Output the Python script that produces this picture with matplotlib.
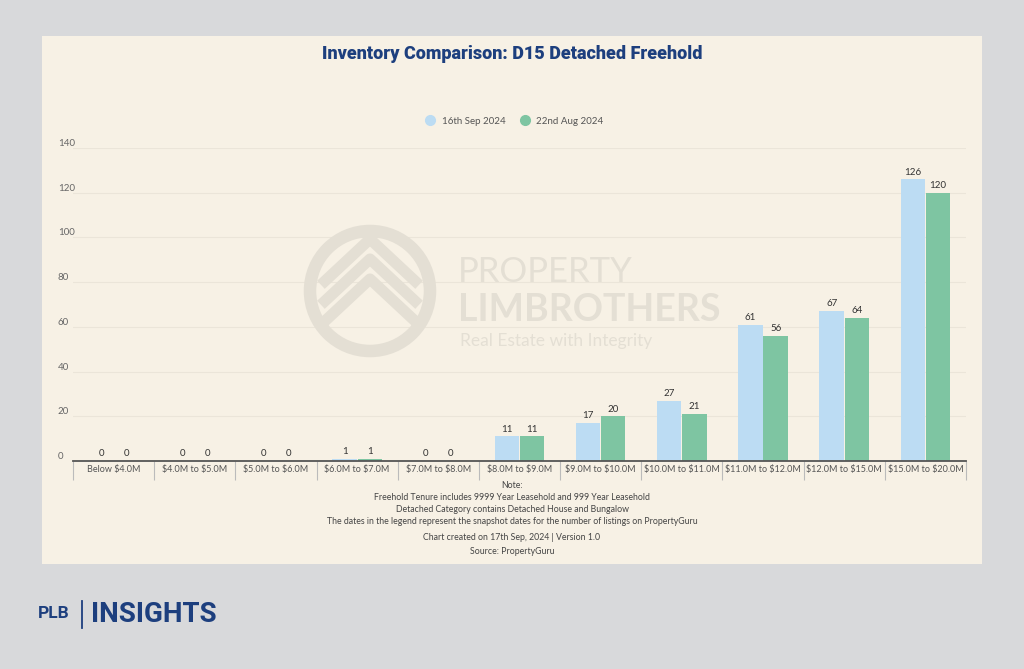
import matplotlib.pyplot as plt
from matplotlib.patches import Rectangle, Ellipse
import numpy as np

plt.rcParams['font.family'] = ['Lato', 'DejaVu Sans']

categories = ["Below $4.0M", "$4.0M to $5.0M", "$5.0M to $6.0M", "$6.0M to $7.0M",
              "$7.0M to $8.0M", "$8.0M to $9.0M", "$9.0M to $10.0M", "$10.0M to $11.0M",
              "$11.0M to $12.0M", "$12.0M to $15.0M", "$15.0M to $20.0M"]
sep_2024 = [0, 0, 0, 1, 0, 11, 17, 27, 61, 67, 126]
aug_2024 = [0, 0, 0, 1, 0, 11, 20, 21, 56, 64, 120]
series_names = ["16th Sep 2024", "22nd Aug 2024"]
yticks = [0, 20, 40, 60, 80, 100, 120, 140]
notes = ["Note:",
         "Freehold Tenure includes 9999 Year Leasehold and 999 Year Leasehold",
         "Detached Category contains Detached House and Bungalow",
         "The dates in the legend represent the snapshot dates for the number of listings on PropertyGuru"]
credits = ["Chart created on 17th Sep, 2024 | Version 1.0", "Source: PropertyGuru"]

blue = "#bcdcf3"
green = "#7ec5a2"
navy = "#1d3f7e"
cream = "#f7f1e5"

W, H = 1024, 669
fig = plt.figure(figsize=(W / 100, H / 100), dpi=100)
fig.patch.set_facecolor("#d8d9db")
fig.add_artist(Rectangle((42 / W, 1 - 564 / H), 940 / W, 528 / H, transform=fig.transFigure,
                         facecolor=cream, edgecolor="none", zorder=0))

# faint watermark
wm = "#e4dfd4"
cx, cy, r = 370, 291, 60
fig.add_artist(Ellipse((cx / W, 1 - cy / H), 2 * r / W, 2 * r / H, transform=fig.transFigure,
                       facecolor="none", edgecolor=wm, linewidth=9, zorder=0.5))
for dy in (-10, 10, 30):
    fig.add_artist(plt.Line2D([(cx - 45) / W, cx / W, (cx + 45) / W],
                              [1 - (cy + dy) / H, 1 - (cy + dy - 42) / H, 1 - (cy + dy) / H],
                              transform=fig.transFigure, color=wm, linewidth=8, zorder=0.5))
fig.text(458 / W, 1 - 272 / H, "PROPERTY", fontsize=25, color=wm, va="center", ha="left", zorder=0.5)
fig.text(458 / W, 1 - 310 / H, "LIMBROTHERS", fontsize=27, fontweight="bold", color=wm,
         va="center", ha="left", zorder=0.5)
fig.text(460 / W, 1 - 341 / H, "Real Estate with Integrity", fontsize=12.5, color=wm,
         va="center", ha="left", zorder=0.5)

ax = fig.add_axes([73 / W, 1 - 461 / H, (966 - 73) / W, (461 - 148) / H])
ax.set_facecolor("none")
x = np.arange(len(categories))
bw = 0.3
b1 = ax.bar(x - bw / 2 - 0.005, sep_2024, bw, color=blue, zorder=2)
b2 = ax.bar(x + bw / 2 + 0.005, aug_2024, bw, color=green, zorder=2)
for bars in (b1, b2):
    for rect in bars:
        ax.annotate(f"{int(rect.get_height())}", (rect.get_x() + rect.get_width() / 2, rect.get_height()),
                    xytext=(0, 2), textcoords="offset points", ha="center", va="bottom",
                    fontsize=7, color="#333333", zorder=3)

ax.set_xlim(-0.5, len(categories) - 0.5)
ax.set_ylim(0, 140)
ax.set_yticks(yticks)
ax.set_yticklabels([str(v) for v in yticks], ha="left", va="bottom", fontsize=7, color="#666666")
ax.tick_params(axis="y", length=0, pad=11)
ax.grid(axis="y", color="#ebe5d9", linewidth=0.8, zorder=0)
ax.set_xticks(x)
ax.set_xticklabels([c.replace("$", r"\$") for c in categories], fontsize=6.5, color="#555555")
ax.tick_params(axis="x", length=0, pad=3)
ax.set_xticks(np.arange(-0.5, len(categories)), minor=True)
ax.tick_params(axis="x", which="minor", length=14, color="#bbbbbb", width=0.8)
for s in ["top", "right", "left"]:
    ax.spines[s].set_visible(False)
ax.spines["bottom"].set_color("#555555")
ax.spines["bottom"].set_linewidth(1.3)
ax.spines["bottom"].set_zorder(4)

fig.text(512 / W, 1 - 54 / H, "Inventory Comparison: D15 Detached Freehold", ha="center",
         va="center", fontsize=13, fontweight="heavy", color=navy, family=["Roboto", "DejaVu Sans"])

h = [plt.Line2D([], [], marker="o", linestyle="none", markersize=7, color=c) for c in (blue, green)]
fig.legend(h, series_names, loc="center", bbox_to_anchor=(512 / W, 1 - 121 / H), ncol=2,
           frameon=False, fontsize=7, handletextpad=0.2, columnspacing=1.0, labelcolor="#555555")

for i, t in enumerate(notes):
    fig.text(512 / W, 1 - (485 + 12.2 * i) / H, t, ha="center", va="center", fontsize=6.3, color="#444444")
for i, t in enumerate(credits):
    fig.text(512 / W, 1 - (538 + 13 * i) / H, t, ha="center", va="center", fontsize=6.3, color="#444444")

fig.text(38 / W, 1 - 614 / H, "PLB", ha="left", va="center", fontsize=12.5, fontweight="bold", color=navy,
         family=["Roboto", "DejaVu Sans"])
fig.add_artist(plt.Line2D([82 / W, 82 / W], [1 - 601 / H, 1 - 628 / H], transform=fig.transFigure,
                          color=navy, linewidth=1.3))
fig.text(91 / W, 1 - 614 / H, "INSIGHTS", ha="left", va="center", fontsize=20, fontweight="bold",
         color=navy, family=["Roboto", "DejaVu Sans"])

fig.savefig("out.png", dpi=100, facecolor=fig.get_facecolor())
